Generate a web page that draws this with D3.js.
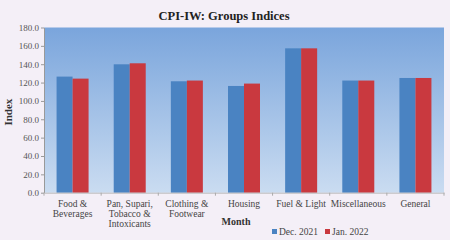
<!DOCTYPE html>
<html>
<head>
<meta charset="utf-8">
<script src="https://cdn.jsdelivr.net/npm/d3@7"></script>
<style>
  body { margin: 0; background: #f4eff7; }
  svg { display: block; font-family: "Liberation Serif", "DejaVu Serif", serif; }
</style>
</head>
<body>
<div id="chart"></div>
<script>
const categories = [
    ["Food &", "Beverages"],
    ["Pan, Supari,", "Tobacco &", "Intoxicants"],
    ["Clothing &", "Footwear"],
    ["Housing"],
    ["Fuel & Light"],
    ["Miscellaneous"],
    ["General"]
];
const seriesNames = ["Dec. 2021", "Jan. 2022"];
const dec2021 = [126.5, 139.9, 121.4, 116.3, 157.3, 122.2, 125.0];
const jan2022 = [124.3, 141.0, 122.2, 118.9, 157.3, 122.2, 125.0];
const yTicks = [0, 20, 40, 60, 80, 100, 120, 140, 160, 180];

const WIDTH = 450;
const HEIGHT = 240;
const LEFT = 44;
const RIGHT = 444;
const TOP = 27.5;
const BOTTOM = 192.7;
const colors = ["#4a83c2", "#c9393f"];

const svg = d3.select("#chart")
    .append("svg")
    .attr("width", WIDTH)
    .attr("height", HEIGHT);

// plot background gradient
const grad = svg.append("defs").append("linearGradient")
    .attr("id", "bg")
    .attr("x1", 0).attr("y1", 0).attr("x2", 0).attr("y2", 1);
grad.append("stop").attr("offset", "0%").attr("stop-color", "#7aa5dc");
grad.append("stop").attr("offset", "100%").attr("stop-color", "#cadcf1");

const xScale = d3.scaleBand()
    .domain(d3.range(categories.length))
    .range([LEFT, RIGHT]);

const xSub = d3.scaleBand()
    .domain(seriesNames)
    .range([xScale.bandwidth() * 0.22, xScale.bandwidth() * 0.78]);

const yScale = d3.scaleLinear()
    .domain([0, 180])
    .range([BOTTOM, TOP]);

svg.append("rect")
    .attr("x", LEFT)
    .attr("y", TOP)
    .attr("width", RIGHT - LEFT)
    .attr("height", BOTTOM - TOP)
    .attr("fill", "url(#bg)");

// title
svg.append("text")
    .attr("x", 224)
    .attr("y", 20)
    .attr("text-anchor", "middle")
    .attr("font-weight", "bold")
    .attr("font-size", 12.5)
    .attr("fill", "#222")
    .text("CPI-IW: Groups Indices");

// bars
const rows = categories.map((c, i) => ({ i: i, values: [dec2021[i], jan2022[i]] }));
svg.append("g")
    .selectAll("g")
    .data(rows)
    .enter()
    .append("g")
    .attr("transform", d => "translate(" + xScale(d.i) + ",0)")
    .selectAll("rect")
    .data(d => d.values.map((v, k) => ({ key: seriesNames[k], value: v, k: k })))
    .enter()
    .append("rect")
    .attr("x", d => xSub(d.key))
    .attr("y", d => yScale(d.value))
    .attr("width", xSub.bandwidth())
    .attr("height", d => BOTTOM - yScale(d.value))
    .attr("fill", d => colors[d.k]);

// y axis
const yAxis = svg.append("g")
    .attr("transform", "translate(" + LEFT + ",0)")
    .call(d3.axisLeft(yScale).tickValues(yTicks).tickFormat(d3.format(".1f")).tickSize(3).tickSizeOuter(0));
yAxis.select(".domain").attr("stroke", "#999");
yAxis.selectAll(".tick line").attr("stroke", "#999");
yAxis.selectAll(".tick text")
    .attr("font-size", 9)
    .attr("font-family", "Liberation Serif, serif")
    .attr("fill", "#555")
    .attr("x", -5);

// x axis
const xAxis = svg.append("g")
    .attr("transform", "translate(0," + BOTTOM + ")")
    .call(d3.axisBottom(xScale).tickSize(0).tickFormat(""));
xAxis.select(".domain").attr("stroke", "#bbb");

// tick marks at band boundaries
svg.append("g")
    .selectAll("line")
    .data(d3.range(categories.length + 1))
    .enter()
    .append("line")
    .attr("x1", d => LEFT + d * xScale.bandwidth())
    .attr("x2", d => LEFT + d * xScale.bandwidth())
    .attr("y1", BOTTOM)
    .attr("y2", BOTTOM + 3)
    .attr("stroke", "#aaa");

// category labels
svg.append("g")
    .selectAll("text")
    .data(rows)
    .enter()
    .append("text")
    .attr("x", d => xScale(d.i) + xScale.bandwidth() / 2)
    .attr("y", 207)
    .attr("text-anchor", "middle")
    .attr("font-size", 9.5)
    .attr("fill", "#444")
    .each(function (d) {
        d3.select(this).selectAll("tspan")
            .data(categories[d.i])
            .enter()
            .append("tspan")
            .attr("x", xScale(d.i) + xScale.bandwidth() / 2)
            .attr("dy", (t, j) => j === 0 ? 0 : 10)
            .text(t => t);
    });

// axis titles
svg.append("text")
    .attr("x", 236)
    .attr("y", 225)
    .attr("text-anchor", "middle")
    .attr("font-weight", "bold")
    .attr("font-size", 10)
    .attr("fill", "#333")
    .text("Month");

svg.append("text")
    .attr("transform", "translate(12," + ((TOP + BOTTOM) / 2 + 2) + ")rotate(-90)")
    .attr("text-anchor", "middle")
    .attr("font-weight", "bold")
    .attr("font-size", 11)
    .attr("fill", "#333")
    .text("Index");

// legend
const legend = svg.append("g")
    .selectAll("g")
    .data(seriesNames)
    .enter()
    .append("g")
    .attr("transform", (d, i) => "translate(" + (272 + i * 53) + ",229)");
legend.append("rect")
    .attr("width", 5)
    .attr("height", 5)
    .attr("fill", (d, i) => colors[i]);
legend.append("text")
    .attr("x", 7)
    .attr("y", 6)
    .attr("font-size", 9.5)
    .attr("fill", "#444")
    .text(d => d);
</script>
</body>
</html>
